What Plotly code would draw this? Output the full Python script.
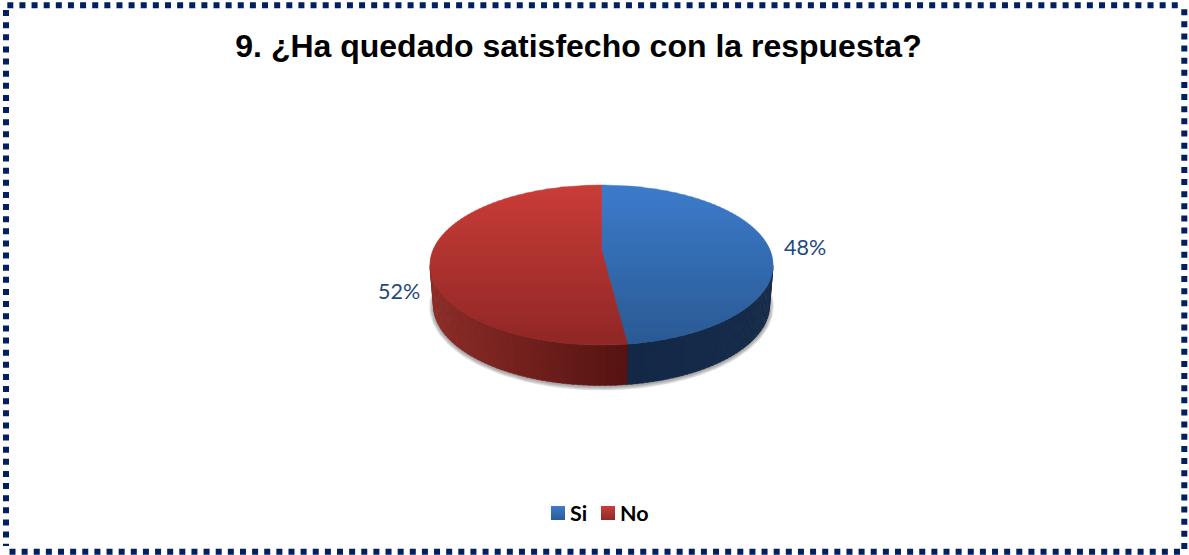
import numpy as np
import plotly.graph_objects as go

# Survey answers
categories = ["Si", "No"]
percentages = [48, 52]
title_text = "9. ¿Ha quedado satisfecho con la respuesta?"

# Shading per answer: top face (back edge, front edge) and wall (left end, right end)
top_shades = {"Si": ((61, 124, 203), (43, 90, 148)), "No": ((202, 61, 57), (144, 40, 38))}
wall_shades = {"Si": ((19, 40, 70), (22, 44, 74)), "No": ((140, 44, 40), (85, 19, 17))}

# Disc geometry in canvas pixels
CX, TOP_CY, TOP_RX, TOP_RY = 601.5, 265.0, 171.5, 80.0
LOW_CY, LOW_RX, LOW_RY = 305.5, 168.0, 80.0
TILT = -0.1875  # perspective shift of the disc centre
TOP_Y0, TOP_Y1 = TOP_CY - TOP_RY, TOP_CY + TOP_RY


def project(theta, cy, rx, ry):
    """Ground-circle angle (clockwise from the back) to canvas x, y with perspective."""
    gx, gy = np.sin(theta), -np.cos(theta)
    d = 1 + TILT * gy
    return CX + rx * gx * np.sqrt(1 - TILT**2) / d, cy + ry * (gy + TILT) / d


def mix(pair, t):
    t = float(np.clip(t, 0, 1))
    a, b = pair
    return "rgb({:.0f},{:.0f},{:.0f})".format(*[a[i] + (b[i] - a[i]) * t for i in range(3)])


def clip_half(poly, limit, keep_below):
    out = []
    n = len(poly)
    for i in range(n):
        p, q = poly[i], poly[(i + 1) % n]
        p_in = p[1] >= limit if keep_below else p[1] <= limit
        q_in = q[1] >= limit if keep_below else q[1] <= limit
        if p_in:
            out.append(p)
        if p_in != q_in:
            s = (limit - p[1]) / (q[1] - p[1])
            out.append((p[0] + s * (q[0] - p[0]), limit))
    return out


def band(poly, y0, y1):
    clipped = clip_half(poly, y0, True)
    return clip_half(clipped, y1, False) if clipped else []


def patch(xs, ys, colour):
    return go.Scatter(
        x=list(xs) + [xs[0]], y=list(ys) + [ys[0]], mode="lines", fill="toself",
        fillcolor=colour, line=dict(color=colour, width=0.5),
        hoverinfo="skip", showlegend=False,
    )


fig = go.Figure()

# Soft shadow under the disc
phi = np.linspace(0, 2 * np.pi, 181)
for grow in (4, 3, 2, 1):
    fig.add_trace(patch(
        CX + (LOW_RX + grow) * np.cos(phi),
        LOW_CY + 0.8 + (LOW_RY + grow) * np.sin(phi),
        "rgba(0,0,0,0.09)",
    ))

# Slice angles from the percentages
shares = np.array(percentages, dtype=float) / sum(percentages)
edges = np.concatenate([[0], np.cumsum(shares)]) * 2 * np.pi
front_start = np.arccos(TILT)  # where the wall becomes visible
front_end = 2 * np.pi - front_start

# Walls of the disc
for name, a0, a1 in zip(categories, edges[:-1], edges[1:]):
    lo, hi = max(a0, front_start), min(a1, front_end)
    if hi <= lo:
        continue
    steps = max(2, int((hi - lo) / np.radians(1.5)))
    angles = np.linspace(lo, hi, steps + 1)
    for t0, t1 in zip(angles[:-1], angles[1:]):
        xa, ya = project(t0, TOP_CY, TOP_RX, TOP_RY)
        xb, yb = project(t1 + 0.004, TOP_CY, TOP_RX, TOP_RY)
        xc, yc = project(t1 + 0.004, LOW_CY, LOW_RX, LOW_RY)
        xd, yd = project(t0, LOW_CY, LOW_RX, LOW_RY)
        # Wall shade runs across the picture, right to left along the rim
        xmid = (xa + xb) / 2
        if name == "No":
            shade = (CX + 25.5 - xmid) / (TOP_RX + 25.5)
            colour = mix(wall_shades[name], 1 - shade)
        else:
            shade = (xmid - CX - 25.5) / (TOP_RX - 25.5)
            colour = mix(wall_shades[name], shade)
        fig.add_trace(patch([xa, xb, xc, xd], [ya, yb, yc, yd], colour))

# Top face, painted as thin horizontal bands for the vertical gradient
apex = (CX, TOP_CY + TOP_RY * TILT)
for name, a0, a1 in zip(categories, edges[:-1], edges[1:]):
    rim = np.linspace(a0, a1, 241)
    rx_pts, ry_pts = project(rim, TOP_CY, TOP_RX, TOP_RY)
    poly = [apex] + list(zip(rx_pts, ry_pts))
    for y in np.arange(TOP_Y0, TOP_Y1, 2.0):
        piece = band(poly, y, y + 2.4)
        if len(piece) >= 3:
            colour = mix(top_shades[name], (y + 1 - TOP_Y0) / (TOP_Y1 - TOP_Y0))
            fig.add_trace(patch([p[0] for p in piece], [p[1] for p in piece], colour))

# Legend keys with their own vertical gradient
key_x = [558, 608]
for name, kx in zip(categories, key_x):
    start, end = top_shades[name]
    fig.add_trace(go.Scatter(
        x=[kx], y=[513], mode="markers", hoverinfo="skip", showlegend=False,
        marker=dict(
            symbol="square", size=14, color=mix((start, end), 0), line=dict(width=0),
            gradient=dict(type="vertical", color=mix((start, end), 1)),
        ),
    ))

annotations = []
# Percentage labels beside each slice
for value, lx, ly in zip(percentages, [805, 399], [246.5, 291]):
    annotations.append(dict(
        x=lx, y=ly, text=f"{value}%", showarrow=False, xanchor="center", yanchor="middle",
        font=dict(family="Lato, Carlito, sans-serif", size=21.5, color="#1F497D"),
    ))
# Legend captions
for name, tx in zip(categories, [570, 620]):
    annotations.append(dict(
        x=tx, y=513, text=f"<b>{name}</b>", showarrow=False, xanchor="left", yanchor="middle",
        xshift=-2, font=dict(family="Lato, Carlito, sans-serif", size=21.5, color="#000000"),
    ))

# Dotted frame, one side at a time so each side starts on a full dot
frame = dict(color="#002060", width=6, dash="6px,6.13px")
frame_sides = [
    (7.3, 5.3, 1179, 5.3),
    (1184.3, 9.2, 1184.3, 550),
    (9.5, 551.7, 1180, 551.7),
    (6, 10, 6, 546),
]
shapes = [
    dict(type="line", xref="x", yref="y", x0=x0, y0=y0, x1=x1, y1=y1, line=frame)
    for x0, y0, x1, y1 in frame_sides
]

fig.update_layout(
    width=1189, height=555, margin=dict(l=0, r=0, t=0, b=0),
    paper_bgcolor="white", plot_bgcolor="white", showlegend=False,
    title=dict(
        text=f"<b>{title_text}</b>", x=578.5 / 1189, y=1 - 46 / 555,
        xanchor="center", yanchor="middle", xref="paper", yref="paper",
        font=dict(family="Liberation Sans, Arial, sans-serif", size=32, color="#000000"),
    ),
    xaxis=dict(range=[0, 1189], visible=False, fixedrange=True),
    yaxis=dict(range=[555, 0], visible=False, fixedrange=True),
    shapes=shapes, annotations=annotations,
)

fig.write_html("out.html", config={"displayModeBar": False})
